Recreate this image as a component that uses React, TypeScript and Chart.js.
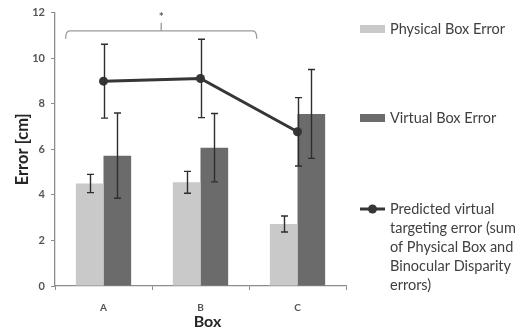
import React, { useEffect, useRef } from "react";
import { Chart, registerables } from "chart.js";

Chart.register(...registerables);

// Categories and series
const boxes = ["A", "B", "C"];
const physicalError = [4.5, 4.55, 2.72];
const physicalSd = [0.4, 0.48, 0.35];
const virtualError = [5.72, 6.07, 7.55];
const virtualSd = [1.87, 1.5, 1.95];
const predictedError = [8.99, 9.11, 6.77];
const predictedSd = [1.62, 1.72, 1.5];

const yTicks = [0, 2, 4, 6, 8, 10, 12];
const physicalLabel = "Physical Box Error";
const virtualLabel = "Virtual Box Error";
const predictedLabel = [
  "Predicted virtual",
  "targeting error (sum",
  "of Physical Box and",
  "Binocular Disparity",
  "errors)",
];
const significanceMark = "*";
const xTitle = "Box";

const LIGHT = "#c9c9c9";
const DARK = "#6b6b6b";
const LINE = "#363636";
const AXIS = "#8c8c8c";
const FONT = "Lato, 'Open Sans', sans-serif";

const errorBarPlugin = {
  id: "errorBars",
  afterDatasetsDraw(chart: any) {
    const ctx = chart.ctx;
    const y = chart.scales.y;
    ctx.save();
    chart.data.datasets.forEach((ds: any, i: number) => {
      const meta = chart.getDatasetMeta(i);
      if (!ds.errors) return;
      meta.data.forEach((el: any, j: number) => {
        const v = ds.data[j];
        const e = ds.errors[j];
        const yt = y.getPixelForValue(v + e);
        const yb = y.getPixelForValue(v - e);
        const x = Math.round(el.x) + 0.5;
        ctx.strokeStyle = "#2e2e2e";
        ctx.lineWidth = 1.4;
        ctx.beginPath();
        ctx.moveTo(x, yt);
        ctx.lineTo(x, yb);
        ctx.moveTo(x - 3.5, yt);
        ctx.lineTo(x + 3.5, yt);
        ctx.moveTo(x - 3.5, yb);
        ctx.lineTo(x + 3.5, yb);
        ctx.stroke();
      });
    });
    ctx.restore();
  },
};

const bracketPlugin = {
  id: "bracket",
  afterDraw(chart: any) {
    const ctx = chart.ctx;
    const xs = chart.scales.x;
    const ys = chart.scales.y;
    const xA = xs.getPixelForValue(0);
    const xB = xs.getPixelForValue(1);
    const w = xB - xA;
    const left = xA - 0.39 * w;
    const right = xB + 0.58 * w;
    const yLine = ys.getPixelForValue(11.2);
    const yEnd = ys.getPixelForValue(10.85);
    const yTip = ys.getPixelForValue(11.55);
    const mid = (left + right) / 2;
    ctx.save();
    ctx.strokeStyle = "#9a9a9a";
    ctx.lineWidth = 1.3;
    ctx.beginPath();
    ctx.moveTo(left, yEnd);
    ctx.quadraticCurveTo(left, yLine, left + 4, yLine);
    ctx.lineTo(right - 4, yLine);
    ctx.quadraticCurveTo(right, yLine, right, yEnd);
    ctx.moveTo(mid, yLine);
    ctx.lineTo(mid, yTip);
    ctx.stroke();
    ctx.fillStyle = "#555";
    ctx.font = `bold 12px ${FONT}`;
    ctx.textAlign = "center";
    ctx.textBaseline = "middle";
    ctx.fillText(significanceMark, mid, ys.getPixelForValue(11.8));
    ctx.restore();
  },
};

// x-axis title, set a little right of the plot centre
const xTitlePlugin = {
  id: "xTitle",
  afterDraw(chart: any) {
    const ctx = chart.ctx;
    const { left, right } = chart.chartArea;
    ctx.save();
    ctx.font = `bold 16px ${FONT}`;
    ctx.fillStyle = "#262626";
    ctx.textAlign = "center";
    ctx.textBaseline = "middle";
    ctx.fillText(xTitle, (left + right) / 2 + 7, 322);
    ctx.restore();
  },
};

const legendPlugin = {
  id: "sideLegend",
  afterDraw(chart: any) {
    const ctx = chart.ctx;
    const x0 = chart.chartArea.right + 14;
    const tx = x0 + 30;
    ctx.save();
    ctx.font = `14.5px ${FONT}`;
    ctx.textBaseline = "middle";
    ctx.textAlign = "left";
    // Physical
    ctx.fillStyle = LIGHT;
    ctx.fillRect(x0, 25, 25, 8);
    ctx.fillStyle = "#404040";
    ctx.fillText(physicalLabel, tx, 29);
    // Virtual
    ctx.fillStyle = DARK;
    ctx.fillRect(x0, 114, 25, 8);
    ctx.fillStyle = "#404040";
    ctx.fillText(virtualLabel, tx, 118);
    // Predicted
    ctx.strokeStyle = LINE;
    ctx.lineWidth = 3;
    ctx.beginPath();
    ctx.moveTo(x0, 209);
    ctx.lineTo(x0 + 25, 209);
    ctx.stroke();
    ctx.fillStyle = LINE;
    ctx.beginPath();
    ctx.arc(x0 + 12.5, 209, 4.5, 0, Math.PI * 2);
    ctx.fill();
    ctx.fillStyle = "#404040";
    predictedLabel.forEach((line, i) => ctx.fillText(line, tx, 209 + i * 19));
    ctx.restore();
  },
};

export default function App() {
  const ref = useRef<HTMLCanvasElement>(null);
  useEffect(() => {
    if (!ref.current) return;
    const chart = new Chart(ref.current, {
      type: "bar",
      data: {
        labels: boxes,
        datasets: [
          {
            type: "line",
            label: predictedLabel.join(" "),
            data: predictedError,
            errors: predictedSd,
            borderColor: LINE,
            backgroundColor: LINE,
            borderWidth: 3,
            pointRadius: 4.5,
            pointBackgroundColor: LINE,
            pointBorderWidth: 0,
            order: 0,
          } as any,
          {
            type: "bar",
            label: physicalLabel,
            data: physicalError,
            errors: physicalSd,
            backgroundColor: LIGHT,
            order: 1,
          } as any,
          {
            type: "bar",
            label: virtualLabel,
            data: virtualError,
            errors: virtualSd,
            backgroundColor: DARK,
            order: 1,
          } as any,
        ],
      },
      options: {
        responsive: false,
        animation: false,
        datasets: { bar: { categoryPercentage: 0.57, barPercentage: 1 } },
        layout: { padding: { left: 0, right: 176, top: 12, bottom: 0 } },
        plugins: { legend: { display: false }, tooltip: { enabled: false } },
        scales: {
          x: {
            grid: { drawOnChartArea: false, tickLength: 4, color: AXIS, offset: true },
            border: { color: AXIS, width: 1.3 },
            ticks: { font: { family: FONT, size: 10, weight: "bold" }, color: "#555", padding: 12 },
            afterFit(scale: any) {
              scale.height = 49;
            },
          },
          y: {
            min: 0,
            max: 12,
            afterBuildTicks(scale: any) {
              scale.ticks = yTicks.map((v) => ({ value: v }));
            },
            grid: { drawOnChartArea: false, tickLength: 4, color: AXIS },
            border: { color: AXIS, width: 1.3 },
            ticks: { font: { family: FONT, size: 11, weight: "bold" }, color: "#555", padding: 6 },
            title: {
              display: true,
              text: "Error [cm]",
              font: { family: FONT, size: 16.5, weight: "bold" },
              color: "#262626",
              padding: { top: 12.5, bottom: 0 },
            },
            afterFit(scale: any) {
              scale.width = 55;
            },
          },
        },
      },
      plugins: [errorBarPlugin, bracketPlugin, xTitlePlugin, legendPlugin],
    } as any);
    return () => chart.destroy();
  }, []);
  return (
    <div style={{ position: "absolute", left: 0, top: 0, width: 522, height: 335, background: "#fff" }}>
      <canvas ref={ref} width={522} height={335} style={{ display: "block" }} />
    </div>
  );
}
